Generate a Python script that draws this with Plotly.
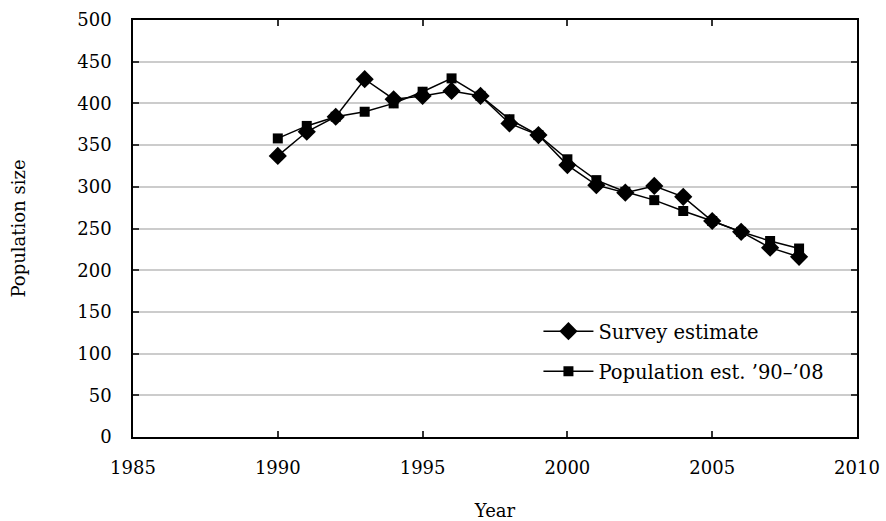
import plotly.graph_objects as go

years = list(range(1990, 2009))
survey = [337, 366, 384, 429, 405, 409, 415, 409, 376, 362,
          326, 302, 293, 301, 288, 259, 246, 227, 216]
popest = [358, 373, 384, 390, 400, 414, 430, 409, 381, 362,
          333, 308, 294, 284, 271, 259, 246, 235, 226]

x_ticks = [1985, 1990, 1995, 2000, 2005, 2010]
y_ticks = [0, 50, 100, 150, 200, 250, 300, 350, 400, 450, 500]

FONT = "DejaVu Serif"
FS = 18

fig = go.Figure()
fig.add_trace(go.Scatter(
    x=years, y=survey, mode="lines+markers", name="Survey estimate",
    line=dict(color="black", width=1.5),
    marker=dict(symbol="diamond", size=14, color="black"),
    legend="legend"))
fig.add_trace(go.Scatter(
    x=years, y=popest, mode="lines+markers", name="Population est. \u201990\u2013\u201908",
    line=dict(color="black", width=1.5),
    marker=dict(symbol="square", size=10, color="black"),
    legend="legend2"))

axis_common = dict(
    showline=True, linecolor="black", linewidth=1.5, mirror="ticks",
    ticks="inside", ticklen=6, tickcolor="#333333", tickwidth=1.5,
    zeroline=False, automargin=False,
    tickfont=dict(family=FONT, size=FS, color="black"),
)

fig.update_xaxes(range=[1985, 2010], tickvals=x_ticks, showgrid=False,
                 title=dict(text="Year", font=dict(family=FONT, size=FS, color="black"), standoff=30),
                 ticklabelstandoff=14, **axis_common)
fig.update_yaxes(range=[0, 500], tickvals=y_ticks, showgrid=True,
                 gridcolor="#cccccc", gridwidth=1.5,
                 title=dict(text="Population size", font=dict(family=FONT, size=FS, color="black"), standoff=47),
                 ticklabelstandoff=16, **axis_common)

leg_common = dict(font=dict(family=FONT, size=19.5, color="black"),
                  bgcolor="rgba(0,0,0,0)", borderwidth=0,
                  xanchor="left", yanchor="middle", itemwidth=50)
fig.update_layout(
    width=886, height=521,
    margin=dict(l=133, r=29, t=20, b=84, autoexpand=False),
    paper_bgcolor="white", plot_bgcolor="white",
    showlegend=True,
    legend=dict(x=0.560, y=0.253, **leg_common),
    legend2=dict(x=0.560, y=0.157, **leg_common),
)

fig.write_html("out.html", config={"displayModeBar": False},
               post_script="document.body.style.margin='0';")
